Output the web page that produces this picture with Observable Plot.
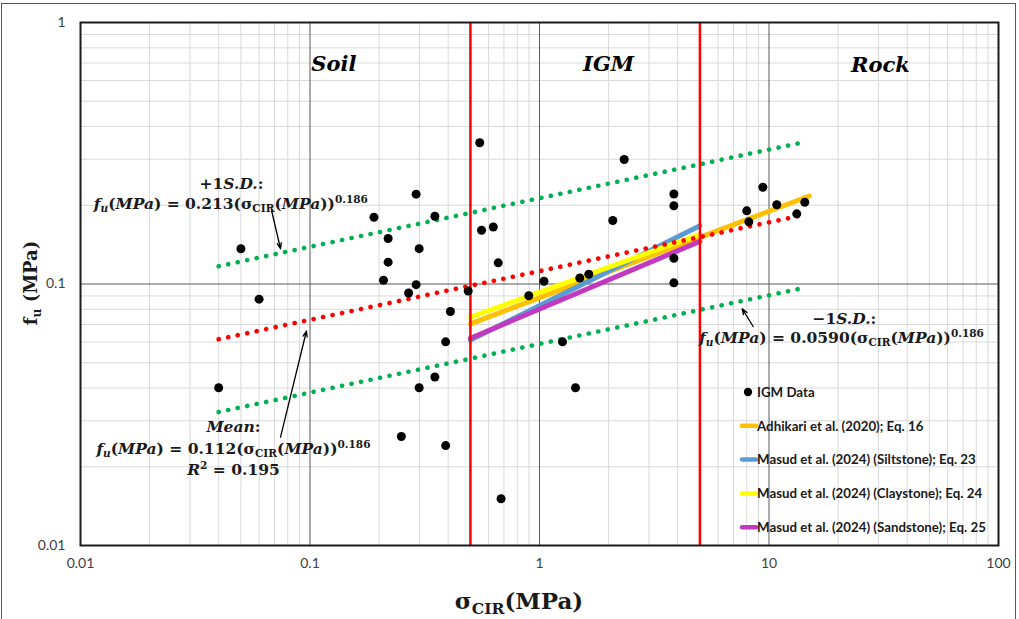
<!DOCTYPE html>
<html><head><meta charset="utf-8">
<script src="https://cdn.jsdelivr.net/npm/d3@7"></script>
<script src="https://cdn.jsdelivr.net/npm/@observablehq/plot@0.6"></script>
<style>
html,body{margin:0;padding:0;background:#fff;}
#chart{width:1019px;height:619px;}
</style></head><body><div id="chart"></div>
<script>
// ---- IGM data (σCIR, fu) in MPa ----
const sigmaCIR = [0.040,0.050,0.060,0.190,0.209,0.219,0.219,0.250,0.269,0.290,0.290,0.299,0.299,0.350,0.350,0.390,0.390,0.409,0.489,0.549,0.559,0.629,0.661,0.680,0.898,1.046,1.26,1.435,1.498,1.640,2.086,2.339,3.85,3.85,3.85,3.85,8.00,8.17,9.40,10.81,13.21,14.32];
const fu       = [0.0401,0.1364,0.0875,0.180,0.1034,0.1493,0.1212,0.0261,0.0924,0.2206,0.0994,0.1365,0.0401,0.1816,0.0441,0.0601,0.0241,0.0785,0.0940,0.3467,0.1605,0.1652,0.1205,0.0151,0.0902,0.1024,0.0601,0.0401,0.1054,0.109,0.175,0.2993,0.2209,0.1991,0.1255,0.101,0.1905,0.1729,0.2345,0.2009,0.1855,0.2055];

// ---- fitted trend lines (end points) ----
const trendX    = [0.04, 14.3];
const meanY     = [0.0615, 0.184];
const plusSDY   = [0.117, 0.349];
const minusSDY  = [0.0324, 0.0968];

// ---- published models ----
const modelNames  = ["Adhikari et al. (2020); Eq. 16","Masud et al. (2024) (Siltstone); Eq. 23","Masud et al. (2024) (Claystone); Eq. 24","Masud et al. (2024) (Sandstone); Eq. 25"];
const modelColors = ["#FFC000","#5B9BD5","#FFFF00","#C238BE"];
const modelX      = [[0.5, 15],[0.5, 5],[0.5, 5],[0.5, 5]];
const modelY      = [[0.0704, 0.217],[0.061, 0.167],[0.0747, 0.155],[0.062, 0.1456]];

// ---- zones ----
const zoneBounds = [0.5, 5];
const zoneLabels = ["Soil","IGM","Rock"];
const zoneLabelX = [0.127, 2.0, 30.6];
const zoneLabelY = [0.69, 0.69, 0.685];

// ---- axes ----
const xTicks = [0.01, 0.1, 0.5, 1, 5, 10, 100];
const yTicks = [0.01, 0.1, 1];
const majorX = [0.1, 1, 10];
const majorY = [0.1];
const decadesX = [0.01, 0.1, 1, 10];
const decadesY = [0.01, 0.1];
const multiples = [2,3,4,5,6,7,8,9];

// ---- annotations ----
const annoText = [
  "+1[i:S.D.]:",
  "[i:f][isub:u]([i:MPa]) = 0.213(σ[sub:CIR]([i:MPa]))[sup:0.186]",
  "[i:Mean]:",
  "[i:f][isub:u]([i:MPa]) = 0.112(σ[sub:CIR]([i:MPa]))[sup:0.186]",
  "[i:R][sup:2] = 0.195",
  "−1[i:S.D.]:",
  "[i:f][isub:u]([i:MPa]) = 0.0590(σ[sub:CIR]([i:MPa]))[sup:0.186]"
];
const annoX = [0.0455, 0.0452, 0.0464, 0.0464, 0.0464, 21.3, 20.7];
const annoY = [0.241, 0.2014, 0.02834, 0.02343, 0.01948, 0.0736, 0.0619];
const arrowX1 = [0.068, 0.0744, 8.53];
const arrowY1 = [0.191, 0.02595, 0.0688];
const arrowX2 = [0.0744, 0.0965, 7.64];
const arrowY2 = [0.1364, 0.0661, 0.0804];

// ---- build tables ----
const points = sigmaCIR.map((x,i)=>({x, y: fu[i]}));
const mkLine = (xs, ys) => xs.map((x,i)=>({x, y: ys[i]}));
const minorX = decadesX.flatMap(d => multiples.map(k => +(d*k).toPrecision(3)));
const minorY = decadesY.flatMap(d => multiples.map(k => +(d*k).toPrecision(3)));
const annos = annoText.map((t,i)=>({t, x: annoX[i], y: annoY[i]}));
const arrows = arrowX1.map((x1,i)=>({x1, y1: arrowY1[i], x2: arrowX2[i], y2: arrowY2[i]}));
const zones = zoneLabels.map((t,i)=>({t, x: zoneLabelX[i], y: zoneLabelY[i]}));

const dotted = {strokeDasharray: "0.1 9.6", strokeLinecap: "round", strokeWidth: 4.6};
const serif = "'DejaVu Serif', serif";

const plot = Plot.plot({
  width: 1019, height: 619,
  marginLeft: 80, marginRight: 21, marginTop: 22, marginBottom: 74,
  style: {fontFamily: "Lato, 'Open Sans', sans-serif", fontSize: "14px", color: "#404040", background: "transparent"},
  x: {type: "log", domain: [0.01, 100], ticks: xTicks, tickFormat: d => String(d), tickSize: 0, tickPadding: 13, label: null},
  y: {type: "log", domain: [0.01, 1], ticks: yTicks, tickFormat: d => String(d), tickSize: 0, tickPadding: 15, label: null},
  marks: [
    Plot.ruleX(minorX, {stroke: "#d9d9d9", strokeWidth: 1}),
    Plot.ruleY(minorY, {stroke: "#d9d9d9", strokeWidth: 1}),
    Plot.ruleX(majorX, {stroke: "#595959", strokeWidth: 1}),
    Plot.ruleY(majorY, {stroke: "#595959", strokeWidth: 1}),
    ...modelNames.map((n,i) => Plot.line(mkLine(modelX[i], modelY[i]), {x: "x", y: "y", stroke: modelColors[i], strokeWidth: 5})),
    Plot.line(mkLine(trendX, plusSDY), {x: "x", y: "y", stroke: "#00B050", ...dotted}),
    Plot.line(mkLine(trendX, meanY), {x: "x", y: "y", stroke: "#FF0000", ...dotted}),
    Plot.line(mkLine(trendX, minusSDY), {x: "x", y: "y", stroke: "#00B050", ...dotted}),
    Plot.ruleX(zoneBounds, {stroke: "#FF0000", strokeWidth: 2.5}),
    Plot.dot(points, {x: "x", y: "y", r: 4.5, fill: "black"}),
    Plot.frame({stroke: "#1a1a1a", strokeWidth: 2}),
    Plot.text(zones, {x: "x", y: "y", text: "t", fontFamily: serif, fontWeight: "bold", fontStyle: "italic", fontSize: 21, fill: "black"}),
    Plot.text(annos, {x: "x", y: "y", text: "t", fontFamily: serif, fontWeight: "bold", fontSize: 15.5, fill: "#1a1a1a"}),
    Plot.arrow(arrows, {x1: "x1", y1: "y1", x2: "x2", y2: "y2", stroke: "black", strokeWidth: 1.3, headLength: 7, headAngle: 40})
  ]
});

const SVGNS = "http://www.w3.org/2000/svg";
function richify(el, src) {
  while (el.firstChild) el.removeChild(el.firstChild);
  const re = /\[(i|sub|isub|sup):([^\]]*)\]/g;
  let last = 0, m;
  const add = (txt, kind) => {
    if (!txt) return;
    const t = document.createElementNS(SVGNS, "tspan");
    t.textContent = txt;
    if (kind === "i" || kind === "isub") t.setAttribute("font-style", "italic");
    if (kind === "sub" || kind === "isub") { t.setAttribute("font-size", "68%"); t.setAttribute("baseline-shift", "-0.3em"); }
    if (kind === "sup") { t.setAttribute("font-size", "68%"); t.setAttribute("baseline-shift", "0.55em"); }
    el.appendChild(t);
  };
  while ((m = re.exec(src))) {
    add(src.slice(last, m.index), null);
    add(m[2], m[1]);
    last = re.lastIndex;
  }
  add(src.slice(last), null);
}

const svg = plot;
svg.querySelectorAll("text").forEach(el => {
  const s = el.textContent;
  if (/\[(i|sub|isub|sup):/.test(s)) richify(el, s);
});

const g = d3.select(svg).append("g");
// outer chart-area border
g.append("rect").attr("x", 1.5).attr("y", 3.5).attr("width", 1014).attr("height", 630)
  .attr("fill", "none").attr("stroke", "#595959").attr("stroke-width", 1);

// axis titles
const yt = g.append("text").attr("transform", "translate(37,283) rotate(-90)")
  .attr("text-anchor", "middle").attr("font-family", serif).attr("font-weight", "bold")
  .attr("font-size", 18).attr("fill", "#1a1a1a");
richify(yt.node(), "f[sub:u] (MPa)");
const xt = g.append("text").attr("x", 519).attr("y", 609)
  .attr("text-anchor", "middle").attr("font-family", serif).attr("font-weight", "bold")
  .attr("font-size", 23).attr("fill", "#1a1a1a");
richify(xt.node(), "σ[sub:CIR](MPa)");

// legend
const legItems = [{label: "IGM Data", dot: true}, ...modelNames.map((n,i)=>({label: n, color: modelColors[i]}))];
legItems.forEach((it, i) => {
  const y = 392 + i * 33.8;
  if (it.dot) g.append("circle").attr("cx", 748).attr("cy", y).attr("r", 4.2).attr("fill", "black");
  else g.append("line").attr("x1", 742).attr("x2", 756).attr("y1", y).attr("y2", y)
        .attr("stroke", it.color).attr("stroke-width", 4.5).attr("stroke-linecap", "round");
  g.append("text").attr("x", 757).attr("y", y).attr("dy", "0.36em").attr("text-anchor", "start")
    .attr("font-family", "Lato, sans-serif").attr("font-weight", "bold").attr("font-size", 13.3)
    .attr("fill", "#1a1a1a").text(it.label);
});

document.getElementById("chart").appendChild(svg);
</script>
</body></html>
